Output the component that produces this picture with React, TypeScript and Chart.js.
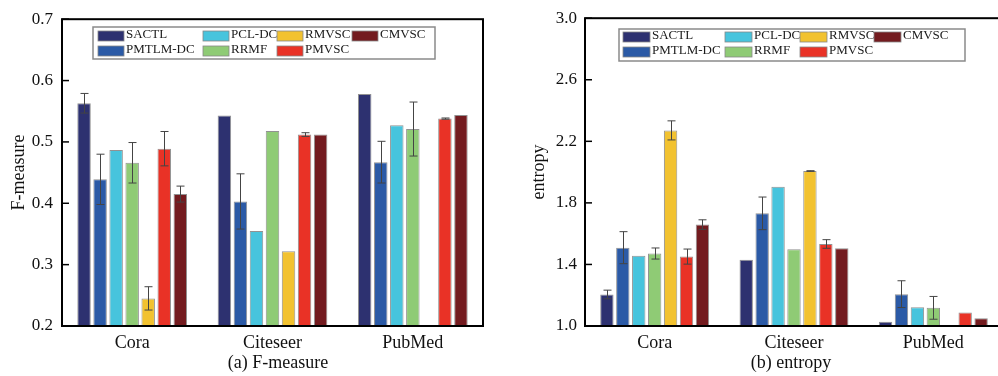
import React, { useEffect, useRef } from 'react';
import { Chart, registerables } from 'chart.js';
Chart.register(...registerables);

const categories = ['Cora', 'Citeseer', 'PubMed'];
const seriesNames = ['SACTL', 'PMTLM-DC', 'PCL-DC', 'RRMF', 'RMVSC', 'PMVSC', 'CMVSC'];
const seriesColors = ['#2d3170', '#2b5aa6', '#47c4dd', '#8fcb75', '#f2c230', '#e93226', '#731b1f'];

// (a) F-measure values per series (Cora, Citeseer, PubMed)
const fmSACTL = [0.563, 0.543, 0.578];
const fmPMTLM = [0.439, 0.403, 0.467];
const fmPCLDC = [0.487, 0.355, 0.527];
const fmRRMF = [0.466, 0.518, 0.521];
const fmRMVSC = [0.245, 0.322, null];
const fmPMVSC = [0.489, 0.512, 0.538];
const fmCMVSC = [0.415, 0.512, 0.544];
// F-measure error half-widths
const fmErrSACTL = [0.016, 0, 0];
const fmErrPMTLM = [0.041, 0.045, 0.034];
const fmErrPCLDC = [0, 0, 0];
const fmErrRRMF = [0.033, 0, 0.044];
const fmErrRMVSC = [0.019, 0, 0];
const fmErrPMVSC = [0.028, 0.003, 0.001];
const fmErrCMVSC = [0.013, 0, 0];
const fmTicks = { min: 0.2, max: 0.7, step: 0.1 };

// (b) entropy values per series
const enSACTL = [1.205, 1.43, 1.028];
const enPMTLM = [1.509, 1.732, 1.207];
const enPCLDC = [1.456, 1.905, 1.122];
const enRRMF = [1.471, 1.498, 1.118];
const enRMVSC = [2.271, 2.007, null];
const enPMVSC = [1.451, 1.533, 1.088];
const enCMVSC = [1.659, 1.505, 1.051];
const enErrSACTL = [0.028, 0, 0];
const enErrPMTLM = [0.104, 0.106, 0.087];
const enErrPCLDC = [0, 0, 0];
const enErrRRMF = [0.036, 0, 0.074];
const enErrRMVSC = [0.062, 0.002, 0];
const enErrPMVSC = [0.049, 0.028, 0];
const enErrCMVSC = [0.031, 0, 0];
const enTicks = { min: 1.0, max: 3.0, step: 0.4 };

const SERIF = "'Liberation Serif', 'Times New Roman', serif";

type PanelCfg = {
  values: (number | null)[][];
  errors: number[][];
  ticks: { min: number; max: number; step: number };
  yTitle: string;
  caption: string;
  captionX: number;
  width: number;
  left: number;
  axisWidth: number;
  padRight: number;
  titlePad: number;
  tickPad: number;
  legend: { box: number[]; cols: number[]; rows: number[]; sw: number };
};

const panels: PanelCfg[] = [
  {
    values: [fmSACTL, fmPMTLM, fmPCLDC, fmRRMF, fmRMVSC, fmPMVSC, fmCMVSC],
    errors: [fmErrSACTL, fmErrPMTLM, fmErrPCLDC, fmErrRRMF, fmErrRMVSC, fmErrPMVSC, fmErrCMVSC],
    ticks: fmTicks,
    yTitle: 'F-measure',
    caption: '(a) F-measure',
    captionX: 278,
    width: 500,
    left: 0,
    axisWidth: 62,
    padRight: 17,
    titlePad: 8,
    tickPad: 9,
    legend: { box: [93, 27, 342, 32], cols: [98, 203, 277, 352], rows: [31, 46], sw: 26 },
  },
  {
    values: [enSACTL, enPMTLM, enPCLDC, enRRMF, enRMVSC, enPMVSC, enCMVSC],
    errors: [enErrSACTL, enErrPMTLM, enErrPCLDC, enErrRRMF, enErrRMVSC, enErrPMVSC, enErrCMVSC],
    ticks: enTicks,
    yTitle: 'entropy',
    caption: '(b) entropy',
    captionX: 291,
    width: 510,
    left: 500,
    axisWidth: 85,
    padRight: 7,
    titlePad: 28,
    tickPad: 8,
    legend: { box: [119, 29, 346, 32], cols: [123, 225, 300, 374], rows: [32, 47], sw: 27 },
  },
];

function makePlugin(cfg: PanelCfg) {
  return {
    id: 'decor',
    afterDatasetsDraw(chart: any) {
      const ctx = chart.ctx;
      const yS = chart.scales.y;
      ctx.save();
      ctx.strokeStyle = '#444';
      ctx.lineWidth = 1;
      chart.data.datasets.forEach((ds: any, i: number) => {
        const meta = chart.getDatasetMeta(i);
        meta.data.forEach((el: any, j: number) => {
          const v = ds.data[j];
          const e = cfg.errors[i][j];
          if (v == null || !e) return;
          const x = Math.round(el.x) + 0.5;
          const yt = yS.getPixelForValue(v + e);
          const yb = yS.getPixelForValue(v - e);
          ctx.beginPath();
          ctx.moveTo(x, yt);
          ctx.lineTo(x, yb);
          ctx.moveTo(x - 4, yt);
          ctx.lineTo(x + 4, yt);
          ctx.moveTo(x - 4, yb);
          ctx.lineTo(x + 4, yb);
          ctx.stroke();
        });
      });
      ctx.restore();
    },
    afterDraw(chart: any) {
      const ctx = chart.ctx;
      const a = chart.chartArea;
      const yS = chart.scales.y;
      ctx.save();
      // inward ticks
      ctx.strokeStyle = '#000';
      ctx.lineWidth = 1.5;
      yS.ticks.forEach((t: any) => {
        const y = yS.getPixelForValue(t.value);
        ctx.beginPath();
        ctx.moveTo(a.left, y);
        ctx.lineTo(a.left + 7, y);
        ctx.stroke();
      });
      // frame
      ctx.lineWidth = 2;
      ctx.strokeRect(a.left, a.top, a.right - a.left, a.bottom - a.top);
      // legend
      const L = cfg.legend;
      ctx.fillStyle = '#fff';
      ctx.fillRect(L.box[0], L.box[1], L.box[2], L.box[3]);
      ctx.strokeStyle = '#8a8a8a';
      ctx.lineWidth = 1.5;
      ctx.strokeRect(L.box[0], L.box[1], L.box[2], L.box[3]);
      ctx.font = `13px ${SERIF}`;
      ctx.textBaseline = 'middle';
      ctx.textAlign = 'left';
      seriesNames.forEach((name, i) => {
        const col = Math.floor(i / 2);
        const row = i % 2;
        const x = L.cols[col];
        const y = L.rows[row];
        ctx.fillStyle = seriesColors[i];
        ctx.fillRect(x, y, L.sw, 10);
        ctx.strokeStyle = '#888';
        ctx.lineWidth = 0.8;
        ctx.strokeRect(x, y, L.sw, 10);
        ctx.fillStyle = '#1a1a1a';
        ctx.fillText(name, x + L.sw + 2, y + 4);
      });
      // caption
      ctx.font = `18px ${SERIF}`;
      ctx.textAlign = 'center';
      ctx.fillStyle = '#111';
      ctx.fillText(cfg.caption, cfg.captionX, 363);
      ctx.restore();
    },
  };
}

function Panel({ cfg }: { cfg: PanelCfg }) {
  const ref = useRef<HTMLCanvasElement>(null);
  useEffect(() => {
    if (!ref.current) return;
    const chart = new Chart(ref.current, {
      type: 'bar',
      data: {
        labels: categories,
        datasets: seriesNames.map((n, i) => ({
          label: n,
          data: cfg.values[i],
          backgroundColor: seriesColors[i],
          borderColor: 'rgba(110,110,110,0.75)',
          borderWidth: 1,
          categoryPercentage: 0.8,
          barPercentage: 0.84,
        })),
      },
      options: {
        responsive: false,
        animation: false,
        layout: { padding: { top: 14, right: cfg.padRight, left: 0, bottom: 0 } },
        plugins: { legend: { display: false }, tooltip: { enabled: false } },
        scales: {
          x: {
            grid: { display: false, drawTicks: false },
            border: { display: false },
            ticks: { padding: 6, color: '#111', font: { family: SERIF, size: 18 } },
            afterFit: (s: any) => {
              s.height = 50;
            },
          },
          y: {
            min: cfg.ticks.min,
            max: cfg.ticks.max,
            grid: { display: false, drawTicks: false },
            border: { display: false },
            ticks: {
              stepSize: cfg.ticks.step,
              padding: cfg.tickPad,
              color: '#111',
              font: { family: SERIF, size: 17 },
              callback: (v: any) => Number(v).toFixed(1),
            },
            title: {
              display: true,
              text: cfg.yTitle,
              color: '#111',
              font: { family: SERIF, size: 18 },
              padding: { top: cfg.titlePad, bottom: 0 },
            },
            afterFit: (s: any) => {
              s.width = cfg.axisWidth;
            },
          },
        },
      },
      plugins: [makePlugin(cfg)],
    } as any);
    return () => chart.destroy();
  }, [cfg]);
  return (
    <canvas
      ref={ref}
      width={cfg.width}
      height={376}
      style={{ position: 'absolute', left: cfg.left, top: 0, width: cfg.width, height: 376, display: 'block' }}
    />
  );
}

export default function App() {
  return (
    <div
      style={{
        position: 'absolute',
        left: 0,
        top: 0,
        width: 998,
        height: 376,
        overflow: 'hidden',
        background: '#fff',
      }}
    >
      {panels.map((p, i) => (
        <Panel key={i} cfg={p} />
      ))}
    </div>
  );
}
